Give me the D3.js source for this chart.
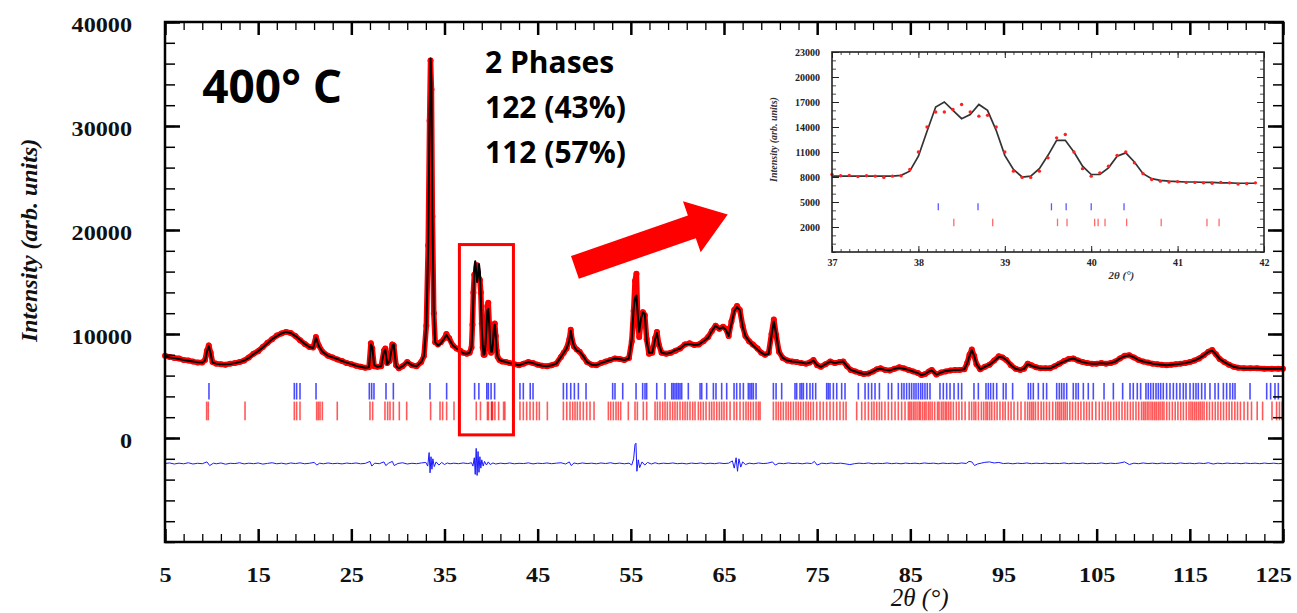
<!DOCTYPE html>
<html>
<head>
<meta charset="utf-8">
<script src="https://d3js.org/d3.v7.min.js"></script>
<style>
  body { margin: 0; background: #fff; }
  svg { display: block; }
</style>
</head>
<body>
<div id="chart"></div>
<script>
// ---- main pattern: [2theta, observed, calculated] ----
var profile = [
  [5.0,7900,7850],[5.5,7800,7750],[6.0,7700,7680],[6.5,7650,7600],[7.0,7500,7500],[7.5,7450,7420],
  [8.0,7350,7350],[8.5,7250,7280],[9.0,7250,7250],[9.3,7500,7450],[9.5,8400,8300],[9.7,8900,8850],
  [9.9,8200,8100],[10.1,7300,7250],[10.5,7150,7150],[11.0,7100,7100],[11.5,7050,7080],[12.0,7150,7120],
  [12.5,7200,7200],[13.0,7300,7300],[13.5,7450,7450],[14.0,7750,7700],[14.5,8100,8050],[15.0,8350,8350],
  [15.5,8750,8700],[16.0,9150,9100],[16.5,9500,9500],[17.0,9850,9800],[17.5,10050,10050],[18.0,10200,10200],
  [18.5,10100,10100],[19.0,9800,9800],[19.5,9400,9450],[20.0,9050,9050],[20.5,8750,8750],[20.9,8700,8650],
  [21.2,9700,9650],[21.5,8900,8850],[21.9,8300,8300],[22.5,7900,7900],[23.0,7750,7750],[23.5,7550,7600],
  [24.0,7400,7400],[24.5,7200,7250],[25.0,7100,7100],[25.5,6950,6950],[26.0,6850,6850],[26.5,6750,6750],
  [26.9,6800,6800],[27.1,9100,9000],[27.25,8600,8700],[27.45,6900,7000],[27.8,6850,6850],[28.2,6900,6900],
  [28.5,8400,8300],[28.65,8600,8500],[28.85,7200,7100],[29.1,7400,7400],[29.4,9000,8900],[29.55,8900,9000],
  [29.8,7000,6900],[30.1,6700,6700],[30.5,6900,6900],[31.0,7300,7300],[31.5,7000,7000],[32.0,6900,6900],
  [32.5,7300,7300],[32.8,7900,7900],[33.05,10800,10800],[33.25,18500,18400],[33.4,30500,31000],[33.5,36300,36500],
  [33.6,33500,34200],[33.7,21300,21500],[33.85,12000,12100],[34.0,9200,9200],[34.3,9000,8900],[34.6,9200,9100],
  [35.0,9600,9600],[35.2,10000,9900],[35.5,9600,9500],[35.9,8900,8900],[36.3,8600,8600],[36.7,8400,8400],
  [37.0,8200,8150],[37.4,8100,8100],[37.7,8200,8200],[37.9,8700,8700],[38.0,10900,10500],[38.1,14000,13500],
  [38.2,15700,16400],[38.3,15600,17000],[38.4,16000,16000],[38.5,16600,15000],[38.6,15700,15600],[38.7,15300,16700],
  [38.8,15200,16000],[38.9,14000,13500],[39.0,11000,10600],[39.1,8700,8900],[39.2,8000,8000],[39.3,8000,8100],
  [39.4,8600,9000],[39.5,10300,10500],[39.6,12700,12300],[39.7,13000,12400],[39.8,11000,11000],[39.9,9000,9300],
  [40.0,8200,8300],[40.1,8500,8300],[40.2,9300,9100],[40.3,10700,10500],[40.4,11000,10900],[40.5,9800,9800],
  [40.6,8400,8400],[40.7,7800,7800],[40.9,7500,7500],[41.2,7350,7400],[41.6,7300,7300],[42.0,7200,7200],
  [42.5,7100,7100],[43.0,7000,7000],[43.5,7150,7150],[44.0,7300,7300],[44.5,7200,7200],[45.0,7050,7050],
  [45.5,6950,6950],[46.0,6900,6900],[46.5,7000,7000],[47.0,7150,7150],[47.5,7800,7800],[47.8,8200,8200],
  [48.1,8600,8600],[48.4,9500,9400],[48.55,10400,10300],[48.7,9400,9500],[48.9,8800,8800],[49.2,8500,8400],
  [49.5,8300,8300],[49.9,7800,7850],[50.3,7300,7300],[50.8,7050,7050],[51.3,7000,7000],[51.8,7200,7200],
  [52.3,7350,7350],[52.8,7500,7500],[53.3,7650,7650],[53.8,7600,7600],[54.3,7500,7500],[54.8,7700,7650],
  [55.1,9300,9500],[55.3,12200,12400],[55.45,15100,13500],[55.6,15800,13700],[55.75,11000,11800],[55.9,9700,10200],
  [56.1,11300,11500],[56.3,12100,12100],[56.5,11800,11900],[56.7,9500,9300],[56.95,8100,8200],[57.3,8200,8200],
  [57.6,9600,9500],[57.8,10200,10100],[58.0,9000,9000],[58.3,8200,8200],[58.8,8100,8100],[59.3,8200,8200],
  [59.8,8400,8450],[60.3,8600,8600],[60.8,9000,9000],[61.3,9100,9050],[61.8,8950,8950],[62.3,9000,9000],
  [62.8,9300,9300],[63.3,9700,9650],[63.7,10300,10300],[64.1,10800,10800],[64.5,10500,10500],[64.9,10700,10650],
  [65.2,10500,10400],[65.5,9800,9800],[65.8,11200,11000],[66.1,12300,12200],[66.4,12700,12600],[66.7,12300,12300],
  [67.0,10800,10700],[67.3,9800,9800],[67.7,9300,9300],[68.1,9000,8900],[68.6,8600,8500],[69.0,8200,8200],
  [69.4,8000,8000],[69.8,8200,8100],[70.1,10000,9900],[70.35,11400,11200],[70.6,9900,10000],[70.9,8300,8300],
  [71.3,7700,7700],[71.8,7450,7450],[72.3,7350,7350],[72.8,7300,7300],[73.3,7200,7250],[73.8,7150,7150],
  [74.2,7250,7250],[74.6,7500,7450],[75.0,7000,7000],[75.4,6850,6850],[75.9,7100,7100],[76.4,7350,7350],
  [76.9,7200,7200],[77.4,7300,7300],[77.8,7350,7350],[78.2,6900,6900],[78.6,6550,6550],[79.1,6400,6400],
  [79.6,6250,6250],[80.0,6150,6150],[80.5,6200,6200],[81.0,6400,6400],[81.4,6600,6600],[81.8,6700,6650],
  [82.3,6550,6550],[82.8,6500,6500],[83.3,6650,6650],[83.8,6800,6750],[84.3,6700,6650],[84.8,6550,6550],
  [85.3,6400,6400],[85.8,6250,6250],[86.2,6050,6050],[86.6,6150,6150],[87.0,6400,6400],[87.3,6550,6500],
  [87.8,6100,6100],[88.3,6300,6300],[88.8,6400,6450],[89.3,6500,6500],[89.8,6550,6550],[90.3,6550,6550],
  [90.8,6600,6600],[91.1,7200,7200],[91.35,8000,7900],[91.6,8500,8450],[91.85,7900,7900],[92.1,7100,7100],
  [92.5,6600,6600],[93.0,6850,6850],[93.5,7050,7050],[94.0,7450,7400],[94.5,7850,7800],[94.9,7750,7750],
  [95.3,7500,7500],[95.8,7000,7000],[96.3,6650,6650],[96.8,6550,6550],[97.2,6650,6650],[97.6,7150,7100],
  [98.0,7000,6950],[98.5,6800,6800],[99.0,6700,6700],[99.5,6700,6700],[100.0,6700,6700],[100.5,6900,6900],
  [101.0,7150,7150],[101.5,7400,7350],[102.0,7600,7550],[102.5,7650,7650],[103.0,7450,7450],[103.5,7300,7300],
  [104.0,7200,7200],[104.5,7150,7150],[105.0,7150,7150],[105.5,7200,7200],[106.0,7150,7150],[106.5,7200,7200],
  [107.0,7350,7350],[107.5,7650,7650],[108.0,7900,7850],[108.5,7950,7950],[109.0,7750,7750],[109.5,7500,7500],
  [110.0,7350,7350],[110.5,7250,7250],[111.0,7150,7150],[111.5,7100,7100],[112.0,7050,7050],[112.5,7000,7000],
  [113.0,7050,7050],[113.5,7100,7100],[114.0,7150,7150],[114.5,7200,7200],[115.0,7300,7300],[115.5,7450,7450],
  [116.0,7650,7650],[116.5,7950,7950],[117.0,8300,8300],[117.4,8450,8400],[117.8,8050,8050],[118.2,7600,7600],
  [118.7,7300,7300],[119.2,7050,7050],[119.7,6850,6850],[120.2,6750,6750],[120.8,6700,6700],[121.5,6700,6700],
  [122.2,6700,6700],[123.0,6650,6650],[123.8,6650,6650],[124.5,6650,6650],[125.0,6650,6650]
];

// ---- observed minus calculated: [2theta, difference] ----
var difference = [
  [5,-2450],[5.5,-2400],[6,-2500],[6.5,-2420],[7,-2480],[7.5,-2380],[8,-2500],[8.5,-2430],[9,-2470],[9.5,-2300],
  [9.8,-2650],[10.2,-2420],[10.5,-2480],[11,-2400],[11.5,-2520],[12,-2430],[12.5,-2460],[13,-2380],[13.5,-2490],
  [14,-2420],[14.5,-2470],[15,-2400],[15.5,-2510],[16,-2440],[16.5,-2380],[17,-2480],[17.5,-2420],[18,-2500],
  [18.5,-2400],[19,-2460],[19.5,-2390],[20,-2480],[20.5,-2430],[21,-2350],[21.3,-2600],[21.6,-2420],[22,-2480],
  [22.5,-2400],[23,-2470],[23.5,-2430],[24,-2490],[24.5,-2410],[25,-2460],[25.5,-2400],[26,-2480],[26.5,-2440],
  [27,-2250],[27.2,-2700],[27.5,-2420],[28,-2470],[28.5,-2300],[28.7,-2650],[29,-2420],[29.4,-2250],[29.6,-2650],
  [30,-2450],[30.5,-2380],[31,-2500],[31.5,-2430],[32,-2470],[32.5,-2400],[33.0,-2350],[33.2,-2700],[33.35,-1400],
  [33.45,-3350],[33.55,-1800],[33.65,-3000],[33.75,-2000],[33.9,-2750],[34.1,-2300],[34.4,-2600],[34.7,-2350],
  [35.0,-2550],[35.3,-2400],[35.6,-2480],[36,-2420],[36.5,-2470],[37,-2400],[37.5,-2460],[37.9,-2380],[38.05,-2700],
  [38.2,-1900],[38.3,-3500],[38.4,-1000],[38.5,-3600],[38.6,-1300],[38.7,-3300],[38.8,-1800],[38.9,-2900],[39.0,-2100],
  [39.15,-2700],[39.3,-2250],[39.5,-2600],[39.7,-2300],[39.9,-2550],[40.2,-2400],[40.5,-2500],[41,-2420],[41.5,-2470],
  [42,-2400],[42.5,-2480],[43,-2430],[43.5,-2460],[44,-2390],[44.5,-2490],[45,-2420],[45.5,-2460],[46,-2400],
  [46.5,-2470],[47,-2420],[47.5,-2380],[48,-2500],[48.4,-2300],[48.6,-2650],[48.9,-2400],[49.3,-2480],[49.8,-2400],
  [50.3,-2460],[50.8,-2420],[51.3,-2480],[51.8,-2400],[52.3,-2460],[52.8,-2380],[53.3,-2470],[53.8,-2410],[54.3,-2480],
  [54.8,-2420],[55.1,-2600],[55.3,-2000],[55.45,-600],[55.55,-500],[55.65,-3200],[55.8,-2100],[55.95,-2850],
  [56.2,-2300],[56.5,-2600],[56.8,-2350],[57.2,-2500],[57.6,-2380],[58,-2480],[58.5,-2420],[59,-2460],[59.5,-2400],
  [60,-2470],[60.5,-2430],[61,-2490],[61.5,-2410],[62,-2460],[62.5,-2400],[63,-2480],[63.5,-2420],[64,-2470],
  [64.5,-2400],[65,-2460],[65.5,-2420],[65.9,-2200],[66.1,-2900],[66.3,-1900],[66.45,-3200],[66.6,-2000],[66.8,-2800],
  [67.0,-2300],[67.3,-2550],[67.7,-2420],[68.2,-2480],[68.7,-2400],[69.2,-2460],[69.7,-2420],[70.2,-2300],[70.5,-2600],
  [70.9,-2420],[71.4,-2470],[71.9,-2400],[72.4,-2460],[72.9,-2420],[73.4,-2480],[73.9,-2410],[74.4,-2460],[74.7,-2250],
  [75.0,-2600],[75.5,-2420],[76,-2470],[76.5,-2400],[77,-2460],[77.5,-2420],[78,-2480],[78.5,-2560],[79,-2470],
  [79.5,-2420],[80,-2460],[80.5,-2400],[81,-2480],[81.5,-2430],[82,-2460],[82.5,-2400],[83,-2470],[83.5,-2420],
  [84,-2480],[84.5,-2410],[85,-2460],[85.5,-2420],[86,-2470],[86.5,-2400],[87,-2450],[87.5,-2420],[88,-2480],
  [88.5,-2410],[89,-2460],[89.5,-2420],[90,-2470],[90.5,-2400],[91,-2450],[91.3,-2250],[91.6,-2300],[91.9,-2650],
  [92.2,-2500],[92.6,-2420],[93,-2340],[93.5,-2300],[94,-2400],[94.5,-2350],[95,-2460],[95.5,-2420],[96,-2480],
  [96.5,-2420],[97,-2460],[97.5,-2400],[98,-2470],[98.5,-2420],[99,-2460],[99.5,-2410],[100,-2470],[100.5,-2430],
  [101,-2460],[101.5,-2400],[102,-2470],[102.5,-2420],[103,-2460],[103.5,-2410],[104,-2470],[104.5,-2430],[105,-2460],
  [105.5,-2400],[106,-2470],[106.5,-2420],[107,-2460],[107.5,-2400],[108,-2300],[108.5,-2550],[109,-2420],[109.5,-2470],
  [110,-2400],[110.5,-2460],[111,-2420],[111.5,-2470],[112,-2410],[112.5,-2460],[113,-2420],[113.5,-2470],[114,-2400],
  [114.5,-2460],[115,-2420],[115.5,-2470],[116,-2410],[116.5,-2460],[117,-2380],[117.5,-2500],[118,-2420],[118.5,-2470],
  [119,-2410],[119.5,-2460],[120,-2420],[120.5,-2470],[121,-2410],[121.5,-2460],[122,-2420],[122.5,-2470],[123,-2410],
  [123.5,-2460],[124,-2420],[124.5,-2470],[125,-2430]
];

// ---- Bragg reflection positions (2theta) ----
var ticks122 = [
  9.72,18.88,19.13,19.49,21.21,26.93,27.18,27.43,28.72,29.51,33.44,35.23,38.23,38.69,39.54,39.71,40.0,40.38,
  43.1,43.46,44.2,44.5,47.76,48.12,48.55,48.94,49.37,50.19,53.05,53.3,54.13,55.56,56.27,56.52,56.7,57.78,58.67,
  59.39,59.56,59.74,59.92,60.1,60.28,60.46,61.17,62.43,62.61,63.14,63.86,64.14,64.75,65.29,66.08,66.36,66.72,
  67.08,67.61,67.79,67.97,68.15,68.44,70.3,70.59,71.19,72.62,72.8,73.16,73.34,73.52,73.88,74.23,74.52,74.84,
  76.02,76.2,76.38,76.74,77.1,77.63,77.99,79.42,80.14,80.5,80.85,81.21,81.68,82.64,83.0,83.71,84.07,84.32,84.6,
  84.89,85.14,85.39,85.61,85.86,86.11,86.32,86.57,86.82,87.11,88.18,88.54,88.9,89.26,89.69,90.15,90.51,91.83,
  92.3,93.12,93.37,93.62,93.91,94.27,94.98,95.27,95.98,97.66,97.91,98.2,98.74,99.27,99.63,100.71,100.99,101.24,
  101.49,101.78,102.49,102.78,103.03,103.57,104.1,104.64,105.79,106.79,107.79,108.58,108.93,109.36,109.72,
  110.29,110.54,110.8,111.08,111.37,111.62,111.87,112.15,112.51,112.87,113.23,113.58,113.94,114.3,114.59,
  115.02,115.38,115.66,115.91,116.27,116.63,117.16,117.7,118.06,118.6,118.95,119.31,119.6,119.85,121.46,
  123.25,123.67,124.14,124.5
];
var ticks112 = [
  9.47,9.65,13.59,18.88,19.13,19.49,21.28,21.46,21.64,21.89,23.49,27.0,27.29,28.61,28.9,29.15,29.51,30.15,
  30.94,33.51,34.52,34.8,35.23,36.02,38.41,38.86,39.61,39.72,40.04,40.08,40.16,40.41,40.81,41.34,41.48,43.1,
  43.46,43.82,44.18,44.53,44.89,45.18,46.04,47.76,48.12,48.47,48.76,49.01,49.26,49.55,49.9,50.26,50.62,51.05,
  52.59,52.84,53.12,53.41,53.66,53.91,54.73,55.45,55.7,56.34,56.7,57.6,57.85,58.13,58.42,58.67,58.92,59.21,
  59.49,59.74,59.99,60.28,60.57,60.82,61.07,61.35,61.64,61.89,62.25,62.5,62.78,63.07,63.43,63.68,63.93,64.22,
  64.5,64.75,65.0,65.29,65.65,66.08,66.36,66.72,67.08,67.36,67.61,67.86,68.15,68.44,68.69,68.87,70.3,70.59,
  70.84,71.09,71.37,71.66,71.91,72.16,72.45,72.73,72.98,73.23,73.52,73.8,74.05,74.3,74.59,74.95,75.31,75.66,
  76.02,76.38,76.74,77.1,77.45,77.81,78.1,79.24,79.78,80.14,80.5,80.85,81.1,81.39,81.68,81.93,82.28,82.64,
  83.0,83.36,83.71,84.07,84.43,84.79,84.95,85.12,85.33,85.51,85.72,85.94,86.08,86.31,86.52,86.69,86.93,87.12,
  87.34,87.61,87.92,88.08,88.33,88.52,88.74,88.91,89.13,89.35,89.62,89.94,90.22,90.53,90.88,91.31,91.58,91.83,
  92.02,92.31,92.63,92.88,93.12,93.29,93.52,93.74,94.03,94.31,94.62,94.93,95.18,95.52,95.81,96.13,96.52,96.88,
  97.31,97.59,97.82,98.03,98.21,98.43,98.72,99.04,99.31,99.62,99.93,100.28,100.61,100.83,101.02,101.21,101.43,
  101.62,101.84,102.12,102.41,102.73,103.02,103.31,103.63,103.92,104.21,104.52,104.91,105.28,105.61,105.93,
  106.22,106.51,106.83,107.12,107.41,107.72,108.03,108.31,108.62,108.91,109.22,109.51,109.82,110.03,110.21,
  110.42,110.61,110.83,111.02,111.23,111.41,111.62,111.81,112.03,112.22,112.52,112.81,113.12,113.43,113.72,
  114.02,114.31,114.62,114.91,115.12,115.31,115.52,115.71,115.92,116.11,116.32,116.53,116.82,117.11,117.42,
  117.73,118.02,118.31,118.62,118.93,119.22,119.51,119.83,120.12,120.43,120.82,121.21,121.62,122.23,122.81,
  123.82,124.31,124.62,124.91
];

var xTicks = [5, 15, 25, 35, 45, 55, 65, 75, 85, 95, 105, 115, 125];
var yTicks = [0, 10000, 20000, 30000, 40000];

// ---- zoomed inset 37-42 deg ----
var insetTheta = [37.0,37.1,37.2,37.3,37.4,37.5,37.6,37.7,37.8,37.9,38.0,38.1,38.2,38.3,38.4,38.5,38.6,38.7,
  38.8,38.9,39.0,39.1,39.2,39.3,39.4,39.5,39.6,39.7,39.8,39.9,40.0,40.1,40.2,40.3,40.4,40.5,40.6,40.7,40.8,
  40.9,41.0,41.1,41.2,41.3,41.4,41.5,41.6,41.7,41.8,41.9];
var insetObs = [8300,8150,8200,8050,8150,8100,7950,8100,8150,8900,11000,14000,15800,15800,16100,16700,15800,
  15300,15400,14000,11000,8700,7950,7950,8700,10300,12700,13100,11000,9000,8100,8500,9300,10600,11000,9700,
  8400,7700,7500,7400,7450,7350,7350,7300,7250,7350,7300,7150,7200,7300];
var insetCalc = [8100,8100,8100,8100,8100,8100,8100,8100,8200,8700,10500,13500,16400,17000,16000,15000,15500,
  16700,16000,13600,10600,8900,8000,8100,9000,10600,12400,12400,11000,9300,8300,8300,9100,10500,10900,9800,
  8400,7800,7600,7500,7450,7400,7400,7350,7350,7300,7300,7250,7250,7250];
var insetTicks122 = [38.23, 38.69, 39.54, 39.71, 40.0, 40.38];
var insetTicks112 = [38.41, 38.86, 39.61, 39.72, 40.04, 40.08, 40.16, 40.41, 40.81, 41.34, 41.48];
var insetXTicks = [37, 38, 39, 40, 41, 42];
var insetYTicks = [2000, 5000, 8000, 11000, 14000, 17000, 20000, 23000];

var phaseLines = ['2 Phases', '122 (43%)', '112 (57%)'];

draw_refinement();

function draw_refinement() {
    var width = 1297, height = 613,
        svg = d3.select('#chart').append('svg')
            .attr('width', width)
            .attr('height', height);

    var x = d3.scaleLinear().domain([5, 125]).range([165, 1283]),
        y = d3.scaleLinear().domain([-10000, 40000]).range([542, 22]);

    // bragg markers
    function bragg(g, vals, xs, ys, lo, hi, color, op, w) {
        g.selectAll('line.t').data(vals).enter().append('line')
            .attr('x1', d => xs(d)).attr('x2', d => xs(d))
            .attr('y1', ys(lo)).attr('y2', ys(hi))
            .style('stroke', color).style('stroke-width', w).style('stroke-opacity', op);
    }
    bragg(svg.append('g'), ticks122, x, y, 3700, 5300, '#0000ff', 0.7, 1.6);
    bragg(svg.append('g'), ticks112, x, y, 1700, 3500, '#ff0000', 0.65, 1.6);

    // difference curve
    svg.append('path')
        .datum(difference)
        .attr('d', d3.line().x(d => x(d[0])).y(d => y(d[1])))
        .style('fill', 'none').style('stroke', '#1a1aff').style('stroke-width', 1);

    // observed (red band + dots), calculated (black)
    svg.append('path')
        .datum(profile)
        .attr('d', d3.line().x(d => x(d[0])).y(d => y(d[1])))
        .style('fill', 'none').style('stroke', '#ff0000').style('stroke-width', 5.5)
        .style('stroke-linejoin', 'round');
    svg.append('g').selectAll('circle').data(profile).enter().append('circle')
        .attr('cx', d => x(d[0])).attr('cy', d => y(d[1])).attr('r', 3)
        .style('fill', '#ff0000');
    svg.append('path')
        .datum(profile)
        .attr('d', d3.line().x(d => x(d[0])).y(d => y(d[2])))
        .style('fill', 'none').style('stroke', '#000').style('stroke-width', 2)
        .style('stroke-linejoin', 'round');

    // axes (ticks point inwards)
    function axisStyle(g, w) {
        g.select('.domain').remove();
        g.selectAll('line').style('stroke', '#000').style('stroke-width', w);
    }
    var minorX = d3.range(5, 126, 2), minorY = d3.range(-10000, 40001, 2000);

    svg.append('g').attr('transform', 'translate(0,542)')
        .call(d3.axisBottom(x).tickValues(minorX).tickSizeInner(-8).tickSizeOuter(0).tickFormat(''))
        .call(axisStyle, 1.3);
    svg.append('g').attr('transform', 'translate(0,22)')
        .call(d3.axisTop(x).tickValues(minorX).tickSizeInner(-8).tickSizeOuter(0).tickFormat(''))
        .call(axisStyle, 1.3);
    svg.append('g').attr('transform', 'translate(165,0)')
        .call(d3.axisLeft(y).tickValues(minorY).tickSizeInner(-10).tickSizeOuter(0).tickFormat(''))
        .call(axisStyle, 1.5);
    svg.append('g').attr('transform', 'translate(1283,0)')
        .call(d3.axisRight(y).tickValues(minorY).tickSizeInner(-10).tickSizeOuter(0).tickFormat(''))
        .call(axisStyle, 1.5);

    var xAx = svg.append('g').attr('transform', 'translate(0,542)')
        .call(d3.axisBottom(x).tickValues(xTicks).tickSizeInner(-13).tickSizeOuter(0).tickPadding(24))
        .call(axisStyle, 2.5);
    svg.append('g').attr('transform', 'translate(0,22)')
        .call(d3.axisTop(x).tickValues(xTicks).tickSizeInner(-13).tickSizeOuter(0).tickFormat(''))
        .call(axisStyle, 2.5);
    var yAx = svg.append('g').attr('transform', 'translate(165,0)')
        .call(d3.axisLeft(y).tickValues(yTicks).tickSizeInner(-15).tickSizeOuter(0).tickPadding(30).tickFormat(d3.format('d')))
        .call(axisStyle, 2.5);
    svg.append('g').attr('transform', 'translate(1283,0)')
        .call(d3.axisRight(y).tickValues(yTicks).tickSizeInner(-15).tickSizeOuter(0).tickFormat(''))
        .call(axisStyle, 2.5);

    [xAx, yAx].forEach(g => {
        g.selectAll('text')
            .style('font-family', '"Liberation Serif", "Times New Roman", serif')
            .style('font-weight', 'bold').style('font-size', '22px').style('fill', '#111')
            .attr('transform', 'scale(1.1,1)');
    });
    yAx.selectAll('text').attr('dy', '0.45em');
    // last label sits against the right edge
    xAx.selectAll('text').filter(d => d === 125).attr('x', -9);

    // frame
    svg.append('rect')
        .attr('x', x(5)).attr('y', y(40000))
        .attr('width', x(125) - x(5)).attr('height', y(-10000) - y(40000))
        .style('fill', 'none').style('stroke', '#000').style('stroke-width', 2.5);

    // axis titles
    svg.append('text')
        .attr('transform', 'translate(29,' + y(19000) + ') rotate(-90)')
        .attr('text-anchor', 'middle').attr('dy', '0.35em')
        .style('font-family', '"Liberation Serif", serif').style('font-style', 'italic')
        .style('font-weight', 'bold').style('font-size', '24px').style('fill', '#111')
        .text('Intensity (arb. units)');
    svg.append('text')
        .attr('x', x(86)).attr('y', 606)
        .attr('text-anchor', 'middle')
        .style('font-family', '"Liberation Serif", serif').style('font-style', 'italic')
        .style('font-size', '25px').style('fill', '#111')
        .text('2\u03b8 (\u00b0)');

    // annotations
    svg.append('text')
        .attr('x', x(9.0)).attr('y', y(32200))
        .style('font-family', '"Open Sans", sans-serif').style('font-weight', 'bold')
        .style('font-size', '46px').style('fill', '#000')
        .text('400\u00b0 C');
    svg.append('g').selectAll('text').data(phaseLines).enter().append('text')
        .attr('x', x(39.35))
        .attr('y', (d, i) => y(35100) + i * 45)
        .style('font-family', '"Open Sans", sans-serif').style('font-weight', 'bold')
        .style('font-size', '30px').style('fill', '#000')
        .text(d => d);

    // highlighted region
    svg.append('rect')
        .attr('x', x(36.6)).attr('y', y(18600))
        .attr('width', x(42.4) - x(36.6)).attr('height', y(300) - y(18600))
        .style('fill', 'none').style('stroke', '#ff0000').style('stroke-width', 3);

    // arrow
    var ax0 = x(49.0), ay0 = y(16400), ax1 = x(65.4), ay1 = y(21500),
        len = Math.hypot(ax1 - ax0, ay1 - ay0),
        ux = (ax1 - ax0) / len, uy = (ay1 - ay0) / len,
        px = -uy, py = ux,
        headLen = 38, shaft = 12, head = 27,
        bx = ax1 - ux * headLen, by = ay1 - uy * headLen;
    var pts = [
        [ax0 + px * shaft, ay0 + py * shaft],
        [bx + px * shaft, by + py * shaft],
        [bx + px * head, by + py * head],
        [ax1, ay1],
        [bx - px * head, by - py * head],
        [bx - px * shaft, by - py * shaft],
        [ax0 - px * shaft, ay0 - py * shaft]
    ];
    svg.append('polygon')
        .attr('points', pts.map(p => p.join(',')).join(' '))
        .style('fill', '#ff0000');

    draw_inset(svg);
}

function draw_inset(svg) {
    var x = d3.scaleLinear().domain([37, 42]).range([832, 1264]),
        y = d3.scaleLinear().domain([-1000, 23000]).range([252, 52]);
    var g = svg.append('g');

    g.append('rect').attr('x', 832).attr('y', 52).attr('width', 432).attr('height', 200)
        .style('fill', '#fff');

    var pts = insetTheta.map((t, i) => ({t: t, o: insetObs[i], c: insetCalc[i]}));

    var bl = g.append('g'), rl = g.append('g');
    bl.selectAll('line').data(insetTicks122).enter().append('line')
        .attr('x1', d => x(d)).attr('x2', d => x(d)).attr('y1', y(4000)).attr('y2', y(4850))
        .style('stroke', '#5a5aff').style('stroke-width', 1.3);
    rl.selectAll('line').data(insetTicks112).enter().append('line')
        .attr('x1', d => x(d)).attr('x2', d => x(d)).attr('y1', y(2100)).attr('y2', y(3000))
        .style('stroke', '#ff6a6a').style('stroke-width', 1.3);

    g.append('path').datum(pts)
        .attr('d', d3.line().x(d => x(d.t)).y(d => y(d.c)))
        .style('fill', 'none').style('stroke', '#333').style('stroke-width', 1.7);
    g.append('g').selectAll('circle').data(pts).enter().append('circle')
        .attr('cx', d => x(d.t)).attr('cy', d => y(d.o)).attr('r', 1.7)
        .style('fill', '#ff2020');

    function st(a, w) {
        a.select('.domain').remove();
        a.selectAll('line').style('stroke', '#222').style('stroke-width', w);
    }
    var mx = d3.range(37, 42.001, 0.1), my = d3.range(-1000, 23001, 1000);
    g.append('g').attr('transform', 'translate(0,252)')
        .call(d3.axisBottom(x).tickValues(mx).tickSizeInner(-3).tickSizeOuter(0).tickFormat('')).call(st, 0.8);
    g.append('g').attr('transform', 'translate(0,52)')
        .call(d3.axisTop(x).tickValues(mx).tickSizeInner(-3).tickSizeOuter(0).tickFormat('')).call(st, 0.8);
    g.append('g').attr('transform', 'translate(832,0)')
        .call(d3.axisLeft(y).tickValues(my).tickSizeInner(-4).tickSizeOuter(0).tickFormat('')).call(st, 0.8);
    g.append('g').attr('transform', 'translate(1264,0)')
        .call(d3.axisRight(y).tickValues(my).tickSizeInner(-4).tickSizeOuter(0).tickFormat('')).call(st, 0.8);

    var xa = g.append('g').attr('transform', 'translate(0,252)')
        .call(d3.axisBottom(x).tickValues(insetXTicks).tickSizeInner(-6).tickSizeOuter(0).tickPadding(7).tickFormat(d3.format('d'))).call(st, 1);
    g.append('g').attr('transform', 'translate(0,52)')
        .call(d3.axisTop(x).tickValues(insetXTicks).tickSizeInner(-6).tickSizeOuter(0).tickFormat('')).call(st, 1);
    var ya = g.append('g').attr('transform', 'translate(832,0)')
        .call(d3.axisLeft(y).tickValues(insetYTicks).tickSizeInner(-7).tickSizeOuter(0).tickPadding(12).tickFormat(d3.format('d'))).call(st, 1);
    g.append('g').attr('transform', 'translate(1264,0)')
        .call(d3.axisRight(y).tickValues(insetYTicks).tickSizeInner(-7).tickSizeOuter(0).tickFormat('')).call(st, 1);
    [xa, ya].forEach(a => a.selectAll('text')
        .style('font-family', '"Liberation Serif", serif').style('font-weight', 'bold')
        .style('font-size', '10px').style('fill', '#222'));

    g.append('rect').attr('x', 832).attr('y', 52).attr('width', 432).attr('height', 200)
        .style('fill', 'none').style('stroke', '#222').style('stroke-width', 1.6);

    g.append('text')
        .attr('transform', 'translate(777,' + y(12500) + ') rotate(-90)')
        .attr('text-anchor', 'middle')
        .style('font-family', '"Liberation Serif", serif').style('font-style', 'italic')
        .style('font-weight', 'bold').style('font-size', '10px').style('fill', '#333')
        .text('Intensity (arb. units)');
    g.append('text')
        .attr('x', x(40.35)).attr('y', 279)
        .attr('text-anchor', 'middle')
        .style('font-family', '"Liberation Serif", serif').style('font-style', 'italic')
        .style('font-weight', 'bold').style('font-size', '11px').style('fill', '#333')
        .text('2\u03b8 (\u00b0)');
}
</script>
</body>
</html>
